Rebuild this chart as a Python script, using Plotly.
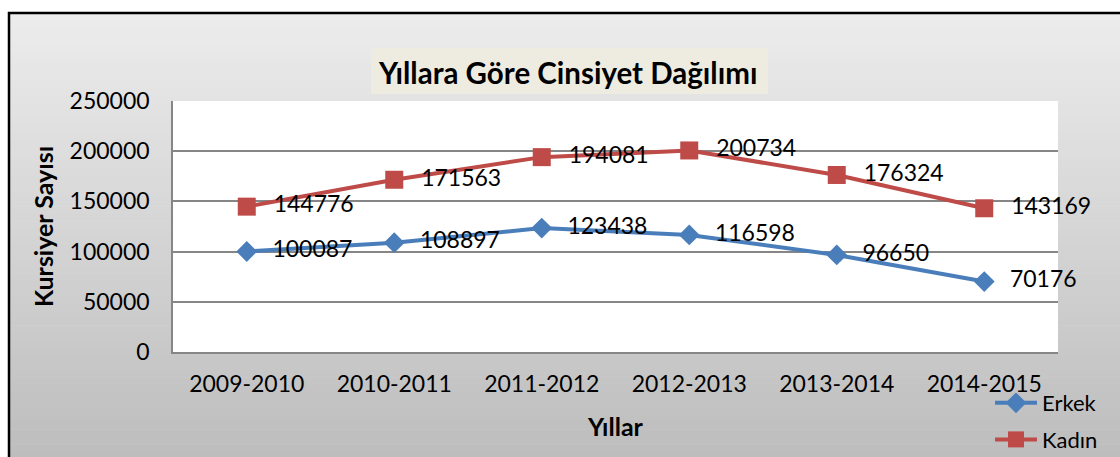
import plotly.graph_objects as go

years = ["2009-2010", "2010-2011", "2011-2012", "2012-2013", "2013-2014", "2014-2015"]
erkek = [100087, 108897, 123438, 116598, 96650, 70176]
kadin = [144776, 171563, 194081, 200734, 176324, 143169]
y_ticks = [0, 50000, 100000, 150000, 200000, 250000]

W, H = 1120, 457
L, R, T, B = 173, 1058, 101, 352  # plot area in px

def px(x):
    return (x - L) / (R - L)

def py(y):
    return (B - y) / (B - T)

FONT = "Lato, 'Open Sans', sans-serif"
PAD = "\u00a0\u00a0\u2009"

fig = go.Figure()
fig.add_trace(go.Scatter(
    x=years, y=erkek, name="Erkek", mode="lines+markers+text",
    legendgroup="e",
    line=dict(color="#4a7ebb", width=4),
    marker=dict(symbol="diamond", size=16, color="#4a7ebb"),
    text=[PAD + str(v) for v in erkek], textposition="middle right",
    textfont=dict(size=23, color="#000000", family=FONT),
    cliponaxis=False,
))
fig.add_trace(go.Scatter(
    x=years, y=kadin, name="Kadın", mode="lines+markers+text",
    legendgroup="k",
    line=dict(color="#be4b48", width=4),
    marker=dict(symbol="square", size=18, color="#be4b48"),
    text=[PAD + str(v) for v in kadin], textposition="middle right",
    textfont=dict(size=23, color="#000000", family=FONT),
    cliponaxis=False,
))

shapes = []
# white outer area
shapes.append(dict(type="rect", xref="paper", yref="paper", layer="below",
                   x0=px(0), x1=px(W), y0=py(H), y1=py(0),
                   fillcolor="#ffffff", line=dict(width=0)))
# gradient background
n = 60
top_c, bot_c = (236, 236, 236), (189, 189, 189)
y_start, y_end = 13, H + 2
for i in range(n):
    t = i / (n - 1)
    c = tuple(int(round(top_c[k] + (bot_c[k] - top_c[k]) * t)) for k in range(3))
    ya = y_start + (y_end - y_start) * i / n
    yb = y_start + (y_end - y_start) * (i + 1) / n + 0.6
    shapes.append(dict(type="rect", xref="paper", yref="paper", layer="below",
                       x0=px(9), x1=px(W + 5), y0=py(yb), y1=py(ya),
                       fillcolor="rgb(%d,%d,%d)" % c, line=dict(width=0)))
# plot area white
shapes.append(dict(type="rect", xref="paper", yref="paper", layer="below",
                   x0=0, x1=1, y0=0, y1=1, fillcolor="#ffffff", line=dict(width=0)))
# black outer border
shapes.append(dict(type="rect", xref="paper", yref="paper", layer="above",
                   x0=px(9), x1=px(W + 10), y0=py(H + 10), y1=py(13),
                   fillcolor="rgba(0,0,0,0)", line=dict(color="#000000", width=2.5)))
# title box
shapes.append(dict(type="rect", xref="paper", yref="paper", layer="below",
                   x0=px(371), x1=px(768), y0=py(94), y1=py(48),
                   fillcolor="#eeece1", line=dict(width=0)))

fig.update_layout(
    width=W, height=H,
    margin=dict(l=L, r=W - R, t=T, b=H - B, autoexpand=False),
    paper_bgcolor="#ffffff", plot_bgcolor="#ffffff",
    font=dict(family=FONT, color="#000000", size=23),
    shapes=shapes,
    showlegend=True,
    legend=dict(x=px(990), y=py(382), xanchor="left", yanchor="top",
                bgcolor="rgba(0,0,0,0)", font=dict(size=22, family=FONT),
                traceorder="grouped", tracegroupgap=5, itemwidth=42),
    annotations=[
        dict(text="<b>Yıllara Göre Cinsiyet Dağılımı</b>", xref="paper", yref="paper",
             x=px(567), y=py(72), xanchor="center", yanchor="middle",
             showarrow=False, font=dict(size=29.5, family=FONT, color="#000000")),
    ],
    xaxis=dict(
        range=[-0.5, 5.5],
        showgrid=False, showline=True, linecolor="#868686", linewidth=1.5,
        tickfont=dict(size=23, family=FONT), ticks="", ticklabelstandoff=11,
        title=dict(text="<b>Yıllar</b>", font=dict(size=25, family=FONT), standoff=22),
        automargin=False, fixedrange=True,
    ),
    yaxis=dict(
        range=[0, 250000], tickvals=y_ticks, ticktext=[str(v) for v in y_ticks],
        showgrid=True, gridcolor="#868686", gridwidth=1.5,
        showline=True, linecolor="#868686", linewidth=1.5,
        zeroline=False, ticks="", ticklabelstandoff=17,
        tickfont=dict(size=23, family=FONT), automargin=False,
        title=dict(text="<b>Kursiyer Sayısı</b>", font=dict(size=25, family=FONT), standoff=9),
    ),
)

fig.write_html("out.html", config={"displayModeBar": False},
               post_script="document.body.style.margin='0';document.body.style.padding='0';")
